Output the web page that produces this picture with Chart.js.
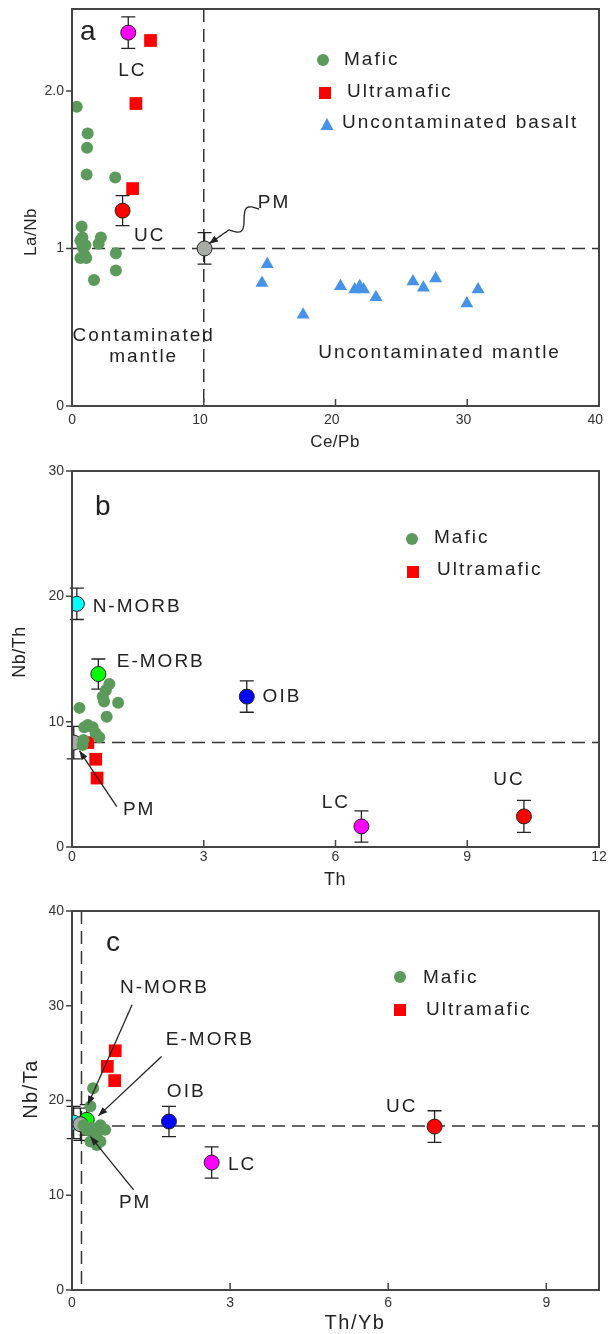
<!DOCTYPE html>
<html>
<head>
<meta charset="utf-8">
<script src="https://cdn.jsdelivr.net/npm/chart.js@4.4.0/dist/chart.umd.min.js"></script>
<style>
  html, body { margin: 0; padding: 0; background: #fff; }
  #wrap { position: relative; width: 608px; height: 1334px; }
  canvas { position: absolute; left: 0; }
</style>
</head>
<body>
<div id="wrap">
  <canvas id="chartA" width="608" height="458" style="top:0"></canvas>
  <canvas id="chartB" width="608" height="437" style="top:458px"></canvas>
  <canvas id="chartC" width="608" height="439" style="top:895px"></canvas>
</div>
<script>
// ---- panel a: La/Nb vs Ce/Pb ----
const aXTicks = [0, 10, 20, 30, 40];
const aYTicks = [0, 1, 2];
const aYLabels = ['0', '1', '2.0'];
const aMaficX = [0.36, 1.19, 1.14, 1.11, 3.28, 0.73, 0.64, 1.02, 0.79, 0.64, 1.08, 2.19, 2.02, 3.33, 3.33, 1.67, 0.79, 0.94];
const aMaficY = [1.90, 1.73, 1.64, 1.47, 1.45, 1.14, 1.05, 1.02, 1.01, 0.94, 0.94, 1.07, 1.03, 0.97, 0.86, 0.80, 1.07, 0.96];
const aUltraX = [5.96, 4.85, 4.60];
const aUltraY = [2.32, 1.92, 1.38];
const aBasaltX = [14.82, 14.42, 17.54, 20.38, 21.46, 21.84, 22.13, 23.07, 25.88, 26.67, 27.6, 29.97, 30.82];
const aBasaltY = [0.90, 0.78, 0.58, 0.76, 0.74, 0.76, 0.74, 0.69, 0.79, 0.75, 0.81, 0.65, 0.74];
const aRefNames = ['LC', 'UC', 'PM'];
const aRefX = [4.27, 3.84, 10.06];
const aRefY = [2.37, 1.24, 1.0];
const aRefErr = [0.10, 0.095, 0.10];

// ---- panel b: Nb/Th vs Th ----
const bXTicks = [0, 3, 6, 9, 12];
const bYTicks = [0, 10, 20, 30];
const bMaficX = [0.17, 0.85, 0.77, 0.70, 0.73, 1.05, 0.79, 0.36, 0.47, 0.28, 0.54, 0.62, 0.26, 0.24];
const bMaficY = [11.1, 13.0, 12.5, 12.0, 11.6, 11.5, 10.4, 9.74, 9.55, 9.55, 9.08, 8.76, 8.54, 8.14];
const bUltraX = [0.36, 0.54, 0.57];
const bUltraY = [8.33, 7.0, 5.5];
const bRefNames = ['N-MORB', 'E-MORB', 'OIB', 'PM', 'LC', 'UC'];
const bRefX = [0.11, 0.60, 3.98, 0.04, 6.59, 10.29];
const bRefY = [19.4, 13.8, 12.0, 8.33, 1.64, 2.44];
const bRefErr = [1.25, 1.2, 1.25, 1.3, 1.25, 1.28];

// ---- panel c: Nb/Ta vs Th/Yb ----
const cXTicks = [0, 3, 6, 9];
const cYTicks = [0, 10, 20, 30, 40];
const cMaficX = [0.40, 0.35, 0.54, 0.63, 0.28, 0.38, 0.35, 0.54, 0.47, 0.22, 0.31, 0.47];
const cMaficY = [21.3, 19.4, 17.4, 16.9, 16.9, 17.1, 15.67, 15.67, 16.55, 17.4, 16.9, 15.3];
const cUltraX = [0.82, 0.67, 0.81];
const cUltraY = [25.25, 23.6, 22.1];
const cRefNames = ['N-MORB', 'E-MORB', 'PM', 'OIB', 'LC', 'UC'];
const cRefX = [0.03, 0.28, 0.16, 1.84, 2.65, 6.88];
const cRefY = [17.67, 17.96, 17.5, 17.78, 13.45, 17.25];
const cRefErr = [1.7, 1.6, 1.7, 1.6, 1.65, 1.67];

// colours
const MAFIC = '#5b9a5b';
const ULTRA = '#ff0000';
const BASALT = '#4592e8';
const refColors = {
  'N-MORB': '#00ffff', 'E-MORB': '#00ff00', 'OIB': '#0000ff',
  'PM': '#a9aba6', 'LC': '#ff00ff', 'UC': '#ff0000'
};
const FONT = 'Arial, "Liberation Sans", sans-serif';
const INK = '#222';

function pts(xs, ys) { return xs.map((v, i) => ({ x: v, y: ys[i] })); }

function text(ctx, t, x, y, size, align, sp, rot) {
  ctx.save();
  ctx.font = `${size}px ${FONT}`;
  ctx.fillStyle = INK;
  ctx.letterSpacing = (sp || 0) + 'px';
  ctx.textAlign = align || 'left';
  ctx.textBaseline = 'middle';
  ctx.translate(x, y);
  if (rot) ctx.rotate(rot);
  ctx.fillText(t, 0, 0);
  ctx.restore();
}

function arrowHead(ctx, x1, y1, x2, y2) {
  const a = Math.atan2(y2 - y1, x2 - x1), L = 9, W = 3.5;
  ctx.beginPath();
  ctx.moveTo(x2, y2);
  ctx.lineTo(x2 - L * Math.cos(a) + W * Math.sin(a), y2 - L * Math.sin(a) - W * Math.cos(a));
  ctx.lineTo(x2 - L * Math.cos(a) - W * Math.sin(a), y2 - L * Math.sin(a) + W * Math.cos(a));
  ctx.closePath();
  ctx.fill();
}

function decor(cfg) {
  return {
    id: 'decor',
    beforeDatasetsDraw(chart) {
      const { ctx, chartArea: ca, scales: { x, y } } = chart;
      ctx.save();
      ctx.strokeStyle = '#333';
      ctx.lineWidth = 1.5;
      ctx.setLineDash([13, 7]);
      (cfg.hLines || []).forEach(v => {
        const py = y.getPixelForValue(v);
        ctx.beginPath(); ctx.moveTo(ca.left, py); ctx.lineTo(ca.right, py); ctx.stroke();
      });
      (cfg.vLines || []).forEach(v => {
        const px = x.getPixelForValue(v);
        ctx.beginPath(); ctx.moveTo(px, ca.top); ctx.lineTo(px, ca.bottom); ctx.stroke();
      });
      ctx.setLineDash([]);
      // error bars on reference compositions
      ctx.strokeStyle = INK;
      ctx.lineWidth = 1.3;
      cfg.refX.forEach((vx, i) => {
        const px = x.getPixelForValue(vx);
        const t = y.getPixelForValue(cfg.refY[i] + cfg.refErr[i]);
        const b = y.getPixelForValue(cfg.refY[i] - cfg.refErr[i]);
        ctx.beginPath();
        ctx.moveTo(px, t); ctx.lineTo(px, b);
        ctx.moveTo(px - 7, t); ctx.lineTo(px + 7, t);
        ctx.moveTo(px - 7, b); ctx.lineTo(px + 7, b);
        ctx.stroke();
      });
      ctx.restore();
    },
    afterDatasetsDraw(chart) {
      const { ctx, chartArea: ca, scales: { x, y } } = chart;
      ctx.save();
      // frame and ticks
      ctx.strokeStyle = '#444';
      ctx.lineWidth = 2;
      ctx.strokeRect(ca.left, ca.top, ca.right - ca.left, ca.bottom - ca.top);
      ctx.lineWidth = 1.5;
      ctx.beginPath();
      cfg.xTicks.forEach(v => {
        const px = x.getPixelForValue(v);
        ctx.moveTo(px, ca.bottom); ctx.lineTo(px, ca.bottom - 7);
      });
      cfg.yTicks.forEach(v => {
        const py = y.getPixelForValue(v);
        ctx.moveTo(ca.left, py); ctx.lineTo(ca.left - 6, py);
      });
      ctx.stroke();

      // arrows from labels to reference points
      ctx.strokeStyle = INK;
      ctx.fillStyle = INK;
      ctx.lineWidth = 1.3;
      (cfg.arrows || []).forEach(a => {
        const x1 = x.getPixelForValue(a.x1), y1 = y.getPixelForValue(a.y1);
        const x2 = x.getPixelForValue(a.x2), y2 = y.getPixelForValue(a.y2);
        ctx.beginPath();
        if (a.wavy) {
          const dx = x2 - x1, dy = y2 - y1, len = Math.hypot(dx, dy);
          const nx = -dy / len, ny = dx / len;
          for (let t = 0; t <= 1.0001; t += 0.02) {
            const off = t < 0.6 ? 8 * Math.sin(2 * Math.PI * t / 0.6) : 0;
            const px = x1 + dx * t + nx * off, py = y1 + dy * t + ny * off;
            t === 0 ? ctx.moveTo(px, py) : ctx.lineTo(px, py);
          }
        } else {
          ctx.moveTo(x1, y1); ctx.lineTo(x2, y2);
        }
        ctx.stroke();
        arrowHead(ctx, x1 + (x2 - x1) * 0.7, y1 + (y2 - y1) * 0.7, x2, y2);
      });

      // text labels placed in data space
      (cfg.labels || []).forEach(l => {
        text(ctx, l.t, x.getPixelForValue(l.x), y.getPixelForValue(l.y), l.size || 19, l.align, l.sp === undefined ? 2 : l.sp);
      });

      // legend
      (cfg.legend || []).forEach(g => {
        ctx.fillStyle = g.color;
        ctx.beginPath();
        if (g.shape === 'circle') ctx.arc(g.mx, g.my, 6, 0, Math.PI * 2);
        else if (g.shape === 'rect') ctx.rect(g.mx - 6, g.my - 6, 12, 12);
        else { ctx.moveTo(g.mx, g.my - 7); ctx.lineTo(g.mx + 6.5, g.my + 5); ctx.lineTo(g.mx - 6.5, g.my + 5); ctx.closePath(); }
        ctx.fill();
        text(ctx, g.t, g.tx, g.ty, 19, 'left', 2);
      });

      // axis titles
      const tt = cfg.titles;
      text(ctx, tt.x.t, tt.x.cx, tt.x.cy, tt.x.size, 'center', tt.x.sp);
      text(ctx, tt.y.t, tt.y.cx, tt.y.cy, tt.y.size, 'center', tt.y.sp, -Math.PI / 2);
      ctx.restore();
    }
  };
}

function makeChart(id, cfg) {
  const datasets = [
    { data: pts(cfg.maficX, cfg.maficY), pointStyle: 'circle', pointRadius: 6, pointHoverRadius: 6,
      backgroundColor: MAFIC, borderWidth: 0, order: 0 },
    { data: pts(cfg.ultraX, cfg.ultraY), pointStyle: 'rect', pointRadius: 9, pointHoverRadius: 9,
      backgroundColor: ULTRA, borderWidth: 0, order: 1 }
  ];
  if (cfg.basaltX) {
    datasets.push({ data: pts(cfg.basaltX, cfg.basaltY), pointStyle: 'triangle', pointRadius: 7.5, pointHoverRadius: 7.5,
      backgroundColor: BASALT, borderWidth: 0, order: 2 });
  }
  datasets.push({ data: pts(cfg.refX, cfg.refY), pointStyle: 'circle', pointRadius: 7.5, pointHoverRadius: 7.5,
    backgroundColor: cfg.refNames.map(n => refColors[n]), borderColor: INK, borderWidth: 1, order: 5 });

  const yLabels = cfg.yLabels || cfg.yTicks.map(String);
  const xLabels = cfg.xTicks.map(String);

  new Chart(document.getElementById(id), {
    type: 'scatter',
    data: { datasets },
    options: {
      responsive: false,
      animation: false,
      events: [],
      layout: { padding: { top: cfg.padTop, right: 8, left: 0, bottom: 0 } },
      plugins: { legend: { display: false }, tooltip: { enabled: false } },
      scales: {
        x: {
          type: 'linear', min: cfg.xMin, max: cfg.xMax,
          grid: { display: false, drawTicks: false }, border: { display: false },
          afterBuildTicks: s => { s.ticks = cfg.xTicks.map(v => ({ value: v })); },
          afterFit: s => { s.height = cfg.xAxisH; s.paddingLeft = 0; s.paddingRight = 0; },
          ticks: {
            color: '#333', font: { size: 14, family: FONT }, padding: cfg.xPad,
            align: cfg.xAlign || 'center', labelOffset: cfg.xOffset || 0,
            maxRotation: 0, autoSkip: false,
            callback: (v, i) => xLabels[i]
          }
        },
        y: {
          type: 'linear', min: cfg.yMin, max: cfg.yMax,
          grid: { display: false, drawTicks: false }, border: { display: false },
          afterBuildTicks: s => { s.ticks = cfg.yTicks.map(v => ({ value: v })); },
          afterFit: s => { s.width = 72; s.paddingTop = 0; s.paddingBottom = 0; },
          ticks: {
            color: '#333', font: { size: 14, family: FONT }, padding: 8,
            autoSkip: false, callback: (v, i) => yLabels[i]
          }
        }
      }
    },
    plugins: [decor(cfg)]
  });
}

makeChart('chartA', {
  maficX: aMaficX, maficY: aMaficY, ultraX: aUltraX, ultraY: aUltraY,
  basaltX: aBasaltX, basaltY: aBasaltY,
  refNames: aRefNames, refX: aRefX, refY: aRefY, refErr: aRefErr,
  xMin: 0, xMax: 40, yMin: 0, yMax: 2.52,
  xTicks: aXTicks, yTicks: aYTicks, yLabels: aYLabels,
  padTop: 8, xAxisH: 52, xPad: 6, xAlign: 'end', xOffset: 4,
  hLines: [1], vLines: [10],
  labels: [
    { t: 'a', x: 0.6, y: 2.37, size: 28, sp: 0 },
    { t: 'LC', x: 4.58, y: 2.13, align: 'center' },
    { t: 'UC', x: 4.7, y: 1.08 },
    { t: 'PM', x: 14.1, y: 1.29 },
    { t: 'Contaminated', x: 5.44, y: 0.446, align: 'center' },
    { t: 'mantle', x: 5.44, y: 0.31, align: 'center' },
    { t: 'Uncontaminated mantle', x: 27.9, y: 0.34, align: 'center' }
  ],
  arrows: [{ x1: 14.2, y1: 1.25, x2: 10.4, y2: 1.03, wavy: true }],
  legend: [
    { shape: 'circle', color: MAFIC, t: 'Mafic', mx: 323, my: 60, tx: 344, ty: 60 },
    { shape: 'rect', color: ULTRA, t: 'Ultramafic', mx: 325, my: 93, tx: 347, ty: 92 },
    { shape: 'tri', color: BASALT, t: 'Uncontaminated basalt', mx: 327, my: 125, tx: 342, ty: 123 }
  ],
  titles: {
    x: { t: 'Ce/Pb', cx: 335, cy: 442, size: 17, sp: 0.5 },
    y: { t: 'La/Nb', cx: 31, cy: 232, size: 17, sp: 0.5 }
  }
});

makeChart('chartB', {
  maficX: bMaficX, maficY: bMaficY, ultraX: bUltraX, ultraY: bUltraY,
  refNames: bRefNames, refX: bRefX, refY: bRefY, refErr: bRefErr,
  xMin: 0, xMax: 12, yMin: 0, yMax: 30,
  xTicks: bXTicks, yTicks: bYTicks,
  padTop: 13, xAxisH: 48, xPad: 2,
  hLines: [8.33],
  labels: [
    { t: 'b', x: 0.70, y: 27.1, size: 28, sp: 0, align: 'center' },
    { t: 'N-MORB', x: 0.47, y: 19.2 },
    { t: 'E-MORB', x: 1.02, y: 14.78 },
    { t: 'OIB', x: 4.34, y: 11.97 },
    { t: 'LC', x: 6.01, y: 3.5, align: 'center' },
    { t: 'UC', x: 9.95, y: 5.36, align: 'center' },
    { t: 'PM', x: 1.16, y: 2.97 }
  ],
  arrows: [{ x1: 1.02, y1: 3.23, x2: 0.17, y2: 7.67 }],
  legend: [
    { shape: 'circle', color: MAFIC, t: 'Mafic', mx: 412, my: 81, tx: 434, ty: 80 },
    { shape: 'rect', color: ULTRA, t: 'Ultramafic', mx: 413, my: 114, tx: 437, ty: 112 }
  ],
  titles: {
    x: { t: 'Th', cx: 335, cy: 422, size: 18, sp: 0.5 },
    y: { t: 'Nb/Th', cx: 20, cy: 194, size: 18, sp: 0.5 }
  }
});

makeChart('chartC', {
  maficX: cMaficX, maficY: cMaficY, ultraX: cUltraX, ultraY: cUltraY,
  refNames: cRefNames, refX: cRefX, refY: cRefY, refErr: cRefErr,
  xMin: 0, xMax: 10, yMin: 0, yMax: 40,
  xTicks: cXTicks, yTicks: cYTicks,
  padTop: 16, xAxisH: 44, xPad: 5,
  hLines: [17.3], vLines: [0.18],
  labels: [
    { t: 'c', x: 0.78, y: 36.6, size: 28, sp: 0, align: 'center' },
    { t: 'N-MORB', x: 0.91, y: 31.9 },
    { t: 'E-MORB', x: 1.78, y: 26.4 },
    { t: 'OIB', x: 1.80, y: 20.95 },
    { t: 'LC', x: 2.96, y: 13.2 },
    { t: 'UC', x: 5.96, y: 19.36 },
    { t: 'PM', x: 0.89, y: 9.16 }
  ],
  arrows: [
    { x1: 1.14, y1: 30.1, x2: 0.30, y2: 19.54 },
    { x1: 1.70, y1: 24.64, x2: 0.50, y2: 18.38 },
    { x1: 1.17, y1: 10.56, x2: 0.35, y2: 16.19 }
  ],
  legend: [
    { shape: 'circle', color: MAFIC, t: 'Mafic', mx: 400, my: 82, tx: 423, ty: 83 },
    { shape: 'rect', color: ULTRA, t: 'Ultramafic', mx: 400, my: 115, tx: 426, ty: 115 }
  ],
  titles: {
    x: { t: 'Th/Yb', cx: 355, cy: 428, size: 20, sp: 1.5 },
    y: { t: 'Nb/Ta', cx: 31, cy: 194, size: 20, sp: 1.5 }
  }
});
</script>
</body>
</html>
